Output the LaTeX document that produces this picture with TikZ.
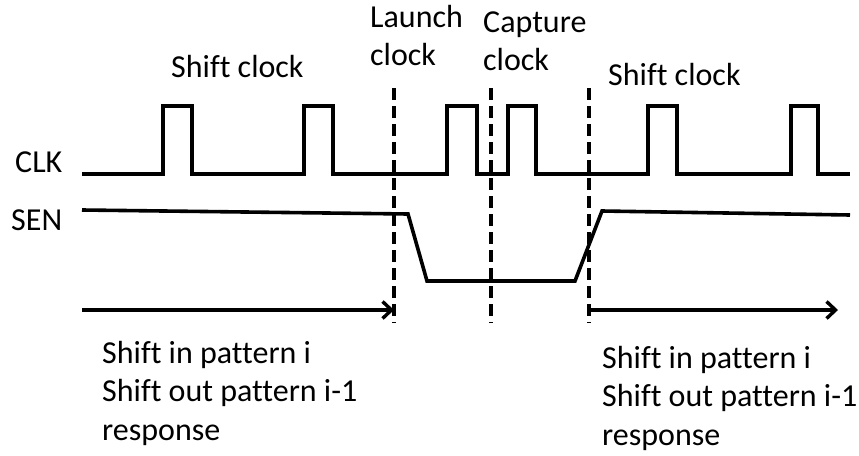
\documentclass[tikz,border=0pt]{standalone}
\usepackage{fontspec}
\setmainfont{Carlito}[Ligatures=NoCommon]
\usetikzlibrary{arrows.meta}
\begin{document}
\begin{tikzpicture}[
  x=1pt,
  y=-1pt,
  wave/.style={line width=3.6pt},
  marker/.style={line width=4pt, dash pattern=on 12pt off 6pt},
  span/.style={line width=3.6pt, -{Straight Barb[length=9pt, width=17pt, line width=3.4pt]}},
  lbl/.style={anchor=base west, inner sep=0pt, align=left, font=\fontsize{32}{38.5}\selectfont}
]
\useasboundingbox (0,0) rectangle (859,455);

% signal names
\node[lbl] (clk) at (15,172) {CLK};
\node[lbl] (sen) at (11,230) {SEN};

% clock phases (base = last line)
\node[lbl] (shiftL) at (171,77) {Shift clock};
\node[lbl] (launchlbl) at (370,65.5) {Launch\\clock};
\node[lbl] (capturelbl) at (483,70.5) {Capture\\clock};
\node[lbl] (shiftR) at (608,85) {Shift clock};

% waveforms
\draw[wave] (82,174)
  \foreach \a/\b in {163/192,304/333,447/477,508/536,648/677,791/818}
    { -- (\a,174) -- (\a,106) -- (\b,106) -- (\b,174) }
  -- (850,174);
\draw[wave] (82,210) -- (408,214) -- (427,281) -- (575,281) -- (602,211) -- (850,215);

% launch / capture / shift boundaries
\coordinate (launch) at (394,88);
\coordinate (capture) at (491,88);
\coordinate (resume) at (589,88);
\draw[marker] (launch) -- ++(0,235);
\draw[marker] (capture) -- ++(0,235);
\draw[marker] (resume) -- ++(0,235);

% shift phases
\coordinate (startL) at (82,310);
\coordinate (endR) at (838,310);
\draw[span] (startL) -- (launch |- startL);
\draw[span] (resume |- endR) -- (endR);

\node[lbl] (phaseL) at (102,440) {Shift in pattern i\\Shift out pattern i-1\\response};
\node[lbl] (phaseR) at (602,445) {Shift in pattern i\\Shift out pattern i-1\\response};
\end{tikzpicture}
\end{document}
